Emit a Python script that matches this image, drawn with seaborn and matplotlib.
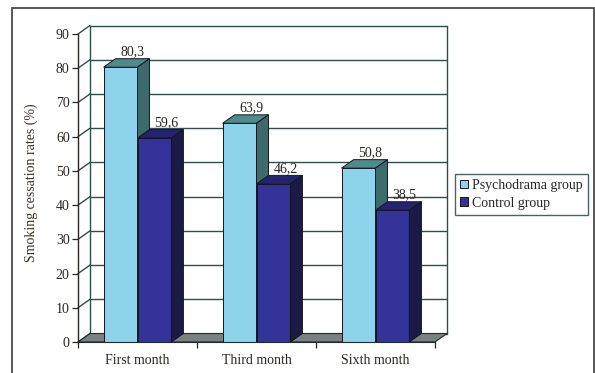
import matplotlib
matplotlib.use("Agg")
import matplotlib.pyplot as plt
import seaborn as sns
import pandas as pd
from matplotlib.patches import Polygon, Patch, Rectangle

categories = ["First month", "Third month", "Sixth month"]
groups = ["Psychodrama group", "Control group"]
psychodrama = [80.3, 63.9, 50.8]
control = [59.6, 46.2, 38.5]
yticks = [0, 10, 20, 30, 40, 50, 60, 70, 80, 90]

front_colors = ["#8DD3EB", "#333399"]
top_colors = ["#4F8A8C", "#23236E"]
side_colors = ["#3D6B6C", "#1A1A45"]
grid_c = "#2E4E4E"
dark = "#2a2520"

df = pd.DataFrame({
    "month": categories * 2,
    "rate": psychodrama + control,
    "group": [groups[0]] * 3 + [groups[1]] * 3,
})

sns.set_theme(style="white")
plt.rcParams["font.family"] = ["Liberation Serif", "DejaVu Serif"]

W, H = 595, 373
fig = plt.figure(figsize=(W / 100, H / 100), dpi=100)
ax = fig.add_axes([78 / W, 31 / H, 357 / W, 308 / H])
ax.set_facecolor("white")

sns.barplot(data=df, x="month", y="rate", hue="group", hue_order=groups,
            palette=front_colors, saturation=1, width=0.57, gap=0,
            edgecolor="#15151f", linewidth=0.7, legend=False, ax=ax)

ax.set_xlim(-0.5, 2.5)
ax.set_ylim(0, 90)

# depth offsets (pixels -> data)
dx = 12 / 357 * 3
dy = 8.5 / 308 * 90

# back wall, left wall and floor
x0w, x1w = -0.5, 2.5
for y in yticks:
    ax.plot([x0w + dx, x1w + dx], [y + dy, y + dy], color=grid_c, lw=1.0,
            zorder=1, clip_on=False)
    ax.plot([x0w, x0w + dx], [y, y + dy], color=grid_c, lw=1.0,
            zorder=1, clip_on=False)
ax.plot([x0w + dx, x0w + dx], [dy, 90 + dy], color=grid_c, lw=1.0, zorder=1, clip_on=False)
ax.plot([x1w + dx, x1w + dx], [dy, 90 + dy], color=grid_c, lw=1.0, zorder=1, clip_on=False)
floor = Polygon([(x0w, 0), (x1w, 0), (x1w + dx, dy), (x0w + dx, dy)],
                closed=True, facecolor="#7B8180", edgecolor="#1f2a2a", lw=0.8,
                zorder=1.5, clip_on=False)
ax.add_patch(floor)

# 3D faces of bars and labels
for gi, cont in enumerate(ax.containers):
    z = 3 + gi
    for bar in cont:
        bar.set_zorder(z)
        x0 = bar.get_x()
        x1 = x0 + bar.get_width()
        h = bar.get_height()
        top = Polygon([(x0, h), (x1, h), (x1 + dx, h + dy), (x0 + dx, h + dy)],
                      closed=True, facecolor=top_colors[gi], edgecolor="#15151f",
                      lw=0.7, zorder=z, clip_on=False)
        side = Polygon([(x1, 0), (x1, h), (x1 + dx, h + dy), (x1 + dx, dy)],
                       closed=True, facecolor=side_colors[gi], edgecolor="#15151f",
                       lw=0.7, zorder=z, clip_on=False)
        ax.add_patch(top)
        ax.add_patch(side)
        ax.annotate(f"{h:.1f}".replace(".", ","), (x0 + bar.get_width() / 2 + dx, h + dy),
                    xytext=(0, 2.5), textcoords="offset points", ha="center",
                    va="baseline", fontsize=10, color=dark, zorder=10,
                    annotation_clip=False)

# axes styling
for s in ["top", "right"]:
    ax.spines[s].set_visible(False)
ax.spines["left"].set_color(dark)
ax.spines["left"].set_linewidth(1.0)
ax.spines["bottom"].set_color("#1f2a2a")
ax.spines["bottom"].set_linewidth(0.8)
ax.spines["left"].set_zorder(6)
ax.spines["bottom"].set_zorder(6)

ax.set_yticks(yticks)
ax.set_yticklabels([str(v) for v in yticks])
ax.tick_params(axis="y", left=True, length=4, width=0.9, color=dark, pad=2,
               labelsize=10, labelcolor=dark)
ax.set_xticks([0, 1, 2])
ax.set_xticklabels(categories)
ax.set_xticks([-0.5, 0.5, 1.5, 2.5], minor=True)
ax.tick_params(axis="x", which="major", length=0, pad=9, labelsize=10, labelcolor=dark)
ax.tick_params(axis="x", which="minor", bottom=True, length=4, width=0.9, color=dark)
ax.set_xlabel("")
ax.set_ylabel("")

fig.text(31 / W, 1 - 183 / H, "Smoking cessation rates (%)", rotation=90,
         ha="center", va="center", fontsize=10, color="#3a3020")

handles = [Patch(facecolor=front_colors[i], edgecolor="#15151f", lw=0.7) for i in range(2)]
leg = fig.legend(handles, groups, loc="upper left",
                 bbox_to_anchor=(455 / W, 1 - 174 / H), bbox_transform=fig.transFigure,
                 frameon=True, fancybox=False, fontsize=10, handlelength=0.6,
                 handleheight=0.6, handletextpad=0.3, borderpad=0.35,
                 labelspacing=0.35, borderaxespad=0)
leg.get_frame().set_edgecolor("#1f3a3a")
leg.get_frame().set_linewidth(1.0)

fig.patches.append(Rectangle((12 / W, -0.02), (594 - 12) / W, (H - 8) / H + 0.02,
                             transform=fig.transFigure, fill=False,
                             edgecolor="#4a4a4a", lw=1.3))

fig.savefig("out.png", dpi=100, facecolor="white")
